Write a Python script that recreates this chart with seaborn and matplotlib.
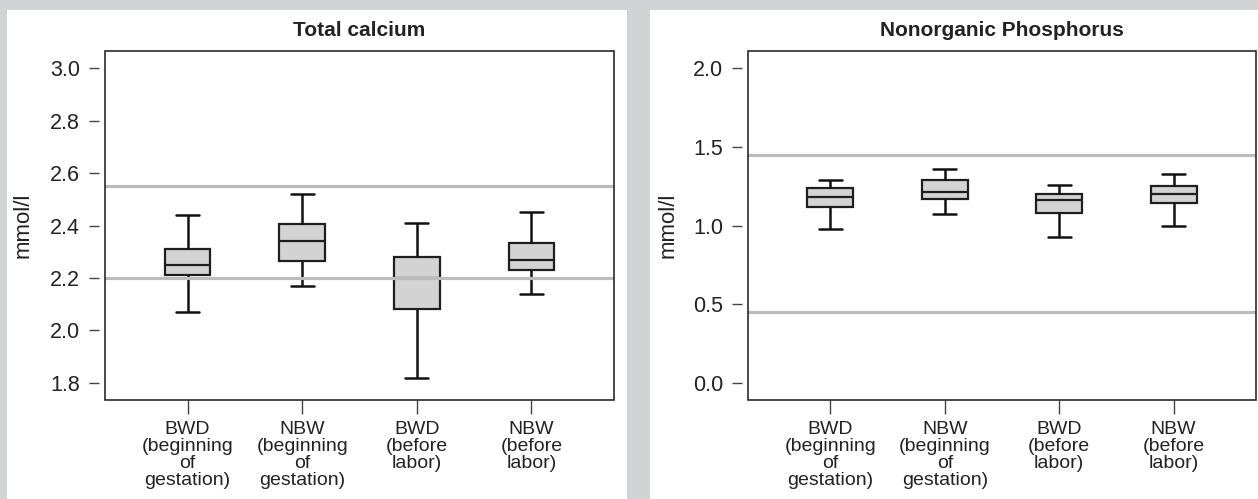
import matplotlib
matplotlib.use("Agg")
import matplotlib.pyplot as plt
from matplotlib.patches import Rectangle
import seaborn as sns
import pandas as pd

# ===================== data =====================
groups = ["BWD\n(beginning\nof\ngestation)", "NBW\n(beginning\nof\ngestation)",
          "BWD\n(before\nlabor)", "NBW\n(before\nlabor)"]

# Total calcium (mmol/l): whisker low, Q1, median, Q3, whisker high
ca_low = [2.07, 2.17, 1.82, 2.14]
ca_q1 = [2.21, 2.265, 2.08, 2.23]
ca_med = [2.25, 2.34, 2.20, 2.27]
ca_q3 = [2.31, 2.405, 2.28, 2.335]
ca_high = [2.44, 2.52, 2.41, 2.45]
ca_ref = [2.20, 2.55]
ca_ticks = [1.8, 2.0, 2.2, 2.4, 2.6, 2.8, 3.0]

# Nonorganic Phosphorus (mmol/l)
p_low = [0.98, 1.07, 0.93, 1.00]
p_q1 = [1.12, 1.17, 1.08, 1.14]
p_med = [1.18, 1.21, 1.16, 1.20]
p_q3 = [1.24, 1.29, 1.20, 1.25]
p_high = [1.29, 1.36, 1.26, 1.33]
p_ref = [0.45, 1.45]
p_ticks = [0.0, 0.5, 1.0, 1.5, 2.0]


def to_long(low, q1, med, q3, high):
    rows = []
    for g, a, b, c, d, e in zip(groups, low, q1, med, q3, high):
        for v in (a, b, c, d, e):
            rows.append({"group": g, "value": v})
    return pd.DataFrame(rows)


df_ca = to_long(ca_low, ca_q1, ca_med, ca_q3, ca_high)
df_p = to_long(p_low, p_q1, p_med, p_q3, p_high)

# ===================== style =====================
sns.set_style("white")
plt.rcParams["font.family"] = ["Liberation Sans", "DejaVu Sans"]

bg = "#d1d3d4"
W, H = 1258, 499
fig = plt.figure(figsize=(W / 100, H / 100), dpi=100, facecolor=bg)

# white panels behind each chart
fig.patches.append(Rectangle((7 / W, 0), (627 - 7) / W, (H - 10) / H,
                             transform=fig.transFigure, fc="white", ec="none", zorder=-5))
fig.patches.append(Rectangle((650 / W, 0), (W - 650) / W, (H - 10) / H,
                             transform=fig.transFigure, fc="white", ec="none", zorder=-5))

ax1 = fig.add_axes([105 / W, (H - 400) / H, 509 / W, 349 / H])
ax2 = fig.add_axes([748 / W, (H - 400) / H, 508 / W, 349 / H])

panels = [
    (ax1, df_ca, "Total calcium", ca_ref, ca_ticks, (1.735, 3.065)),
    (ax2, df_p, "Nonorganic Phosphorus", p_ref, p_ticks, (-0.108, 2.108)),
]

for ax, df, title, ref, ticks, ylim in panels:
    ax.set_facecolor("white")
    sns.boxplot(data=df, x="group", y="value", order=groups, ax=ax,
                whis=(0, 100), width=0.4, color="#d3d3d3", linecolor="#1e1e1e",
                linewidth=1.6, saturation=1,
                medianprops={"color": "#1e1e1e", "linewidth": 1.6},
                whiskerprops={"color": "#111111", "linewidth": 1.8},
                capprops={"color": "#111111", "linewidth": 1.8})
    for y in ref:
        ax.axhline(y, color="#bcbcbc", lw=2.3, zorder=6)

    ax.set_xlim(-0.72, 3.72)
    ax.set_ylim(*ylim)
    ax.set_yticks(ticks)
    ax.set_yticklabels([f"{t:.1f}" for t in ticks])

    for s in ax.spines.values():
        s.set_visible(False)
    ax.spines["left"].set_position(("outward", 4))
    ax.add_artist(Rectangle((0, 0), 1, 1, transform=ax.transAxes, fill=False,
                            ec="#2a2a2a", lw=1.2, zorder=7, clip_on=False))

    ax.tick_params(axis="y", left=True, direction="out", length=7, width=1,
                   color="#444444", labelsize=15.5, pad=7, labelcolor="#222222")
    ax.tick_params(axis="x", bottom=True, direction="out", length=10, width=1,
                   color="#444444", labelsize=14, pad=5, labelcolor="#222222")
    for lab in ax.get_xticklabels():
        lab.set_linespacing(1.0)

    ax.set_xlabel("")
    ax.set_ylabel("mmol/l", fontsize=16, color="#222222")
    ax.set_title(title, fontsize=15, fontweight="bold", color="#222222", pad=11)

ax1.yaxis.set_label_coords(-71 / 509, 0.5)
ax2.yaxis.set_label_coords(-69 / 508, 0.5)

plt.savefig("out.png", dpi=100, facecolor=bg)
plt.close()
